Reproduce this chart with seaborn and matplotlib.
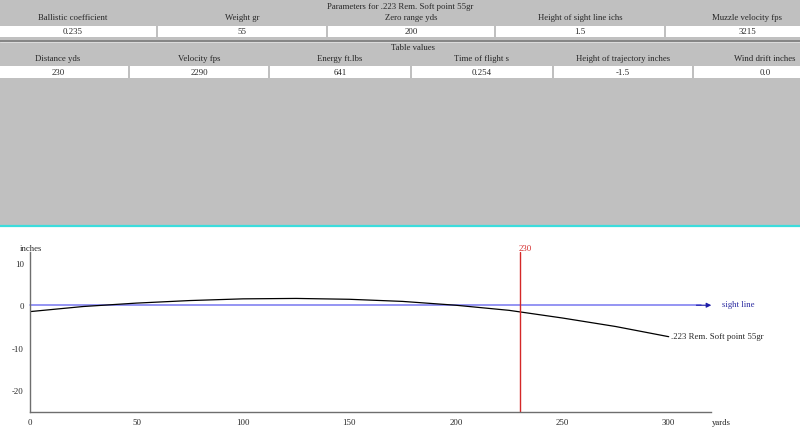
import matplotlib
matplotlib.use("Agg")
import matplotlib.pyplot as plt
import seaborn as sns
from matplotlib.patches import Rectangle

# parameter table
params_title = "Parameters for .223 Rem. Soft point 55gr"
param_labels = ["Ballistic coefficient", "Weight gr", "Zero range yds",
                "Height of sight line ichs", "Muzzle velocity fps"]
param_values = ["0.235", "55", "200", "1.5", "3215"]

# values at the selected distance
table_title = "Table values"
table_labels = ["Distance yds", "Velocity fps", "Energy ft.lbs", "Time of flight s",
                "Height of trajectory inches", "Wind drift inches"]
table_values = ["230", "2290", "641", "0.254", "-1.5", "0.0"]

# trajectory (yards, inches)
distance = [0, 25, 50, 75, 100, 125, 150, 175, 200, 225, 250, 275, 300]
height = [-1.5, -0.3, 0.5, 1.1, 1.5, 1.6, 1.4, 0.9, 0.0, -1.2, -3.0, -5.0, -7.4]
bullet_name = ".223 Rem. Soft point 55gr"
marker_distance = 230

sns.set_style("white")
plt.rcParams['font.family'] = ['Liberation Serif', 'DejaVu Serif']
plt.rcParams['axes.unicode_minus'] = False
fs = 6.3

fig = plt.figure(figsize=(8, 4.35), dpi=100)

# ---- top panel (tables), drawn in pixel coordinates
top = fig.add_axes([0, 1 - 230 / 435, 1, 230 / 435])
top.set_xlim(0, 800)
top.set_ylim(230, 0)
top.set_axis_off()
top.add_patch(Rectangle((0, 0), 800, 226, color='#c0c0c0', lw=0))
top.plot([0, 800], [226.8, 226.8], color='#3cdcdc', lw=1.6)

# table 1
edges1 = [-11, 157, 327, 495, 665, 829]
top.text(400, 7, params_title, ha='center', va='center', fontsize=fs)
for i, (lab, val) in enumerate(zip(param_labels, param_values)):
    x0, x1 = edges1[i], edges1[i + 1]
    top.add_patch(Rectangle((x0 + 1, 27), x1 - x0 - 2, 11, color='white', lw=0))
    top.text((x0 + x1) / 2, 18.5, lab, ha='center', va='center', fontsize=fs)
    top.text((x0 + x1) / 2, 32.5, val, ha='center', va='center', fontsize=fs)

top.plot([0, 800], [41.5, 41.5], color='#858585', lw=1.4)
top.plot([0, 800], [43, 43], color='#dcdcdc', lw=0.7)

# table 2
edges2 = [-13, 129, 269, 411, 553, 693, 837]
top.text(413, 48.5, table_title, ha='center', va='center', fontsize=fs)
for i, (lab, val) in enumerate(zip(table_labels, table_values)):
    x0, x1 = edges2[i], edges2[i + 1]
    top.add_patch(Rectangle((x0 + 1, 67), x1 - x0 - 2, 12, color='white', lw=0))
    top.text((x0 + x1) / 2, 59, lab, ha='center', va='center', fontsize=fs)
    top.text((x0 + x1) / 2, 73, val, ha='center', va='center', fontsize=fs)

# ---- trajectory chart
ax = fig.add_axes([30 / 800, 22.5 / 435, 681.3 / 800, 159.4 / 435])
ax.set_xlim(0, 320)
ax.set_ylim(-25, 12.5)

# sight line with arrow
ax.plot([0, 315], [0, 0], color='#7878f0', lw=1.1, clip_on=False)
ax.annotate('', xy=(320, 0), xytext=(313, 0),
            arrowprops=dict(arrowstyle='-|>', color='#1c1ca8', lw=0.8,
                            mutation_scale=7, shrinkA=0, shrinkB=0),
            annotation_clip=False)
ax.text(325, 0.3, "sight line", color='#2a2aa0', ha='left', va='center', fontsize=fs)

sns.lineplot(x=distance, y=height, color='black', lw=0.9, ax=ax)
ax.annotate(bullet_name, xy=(distance[-1], height[-1]), xytext=(1.5, -1),
            textcoords='offset points', ha='left', va='baseline', fontsize=fs)

# selected distance marker
ax.axvline(marker_distance, color='#d42828', lw=1)
ax.annotate(str(marker_distance), xy=(marker_distance, 12.5), xytext=(-0.5, 3),
            textcoords='offset points', ha='left', va='center',
            color='#d42828', fontsize=fs, annotation_clip=False)

sns.despine(ax=ax)
for s in ['left', 'bottom']:
    ax.spines[s].set_color('#6e6e6e')
    ax.spines[s].set_linewidth(1)

ax.set_xticks(range(0, 301, 50))
ax.set_xticks(range(0, 301, 10), minor=True)
ax.tick_params(axis='x', which='both', direction='in', length=4, width=0.8,
               color='#6e6e6e', pad=5, labelsize=fs)
ax.set_yticks([-20, -10, 0, 10])
ax.tick_params(axis='y', direction='out', length=3, width=0.8,
               color='#6e6e6e', pad=1.5, labelsize=fs)

ax.text(-0.0147, 1.026, "inches", transform=ax.transAxes, ha='left', va='center', fontsize=fs)
ax.text(1.001, -0.066, "yards", transform=ax.transAxes, ha='left', va='center', fontsize=fs)

fig.savefig("out.png", dpi=100)
